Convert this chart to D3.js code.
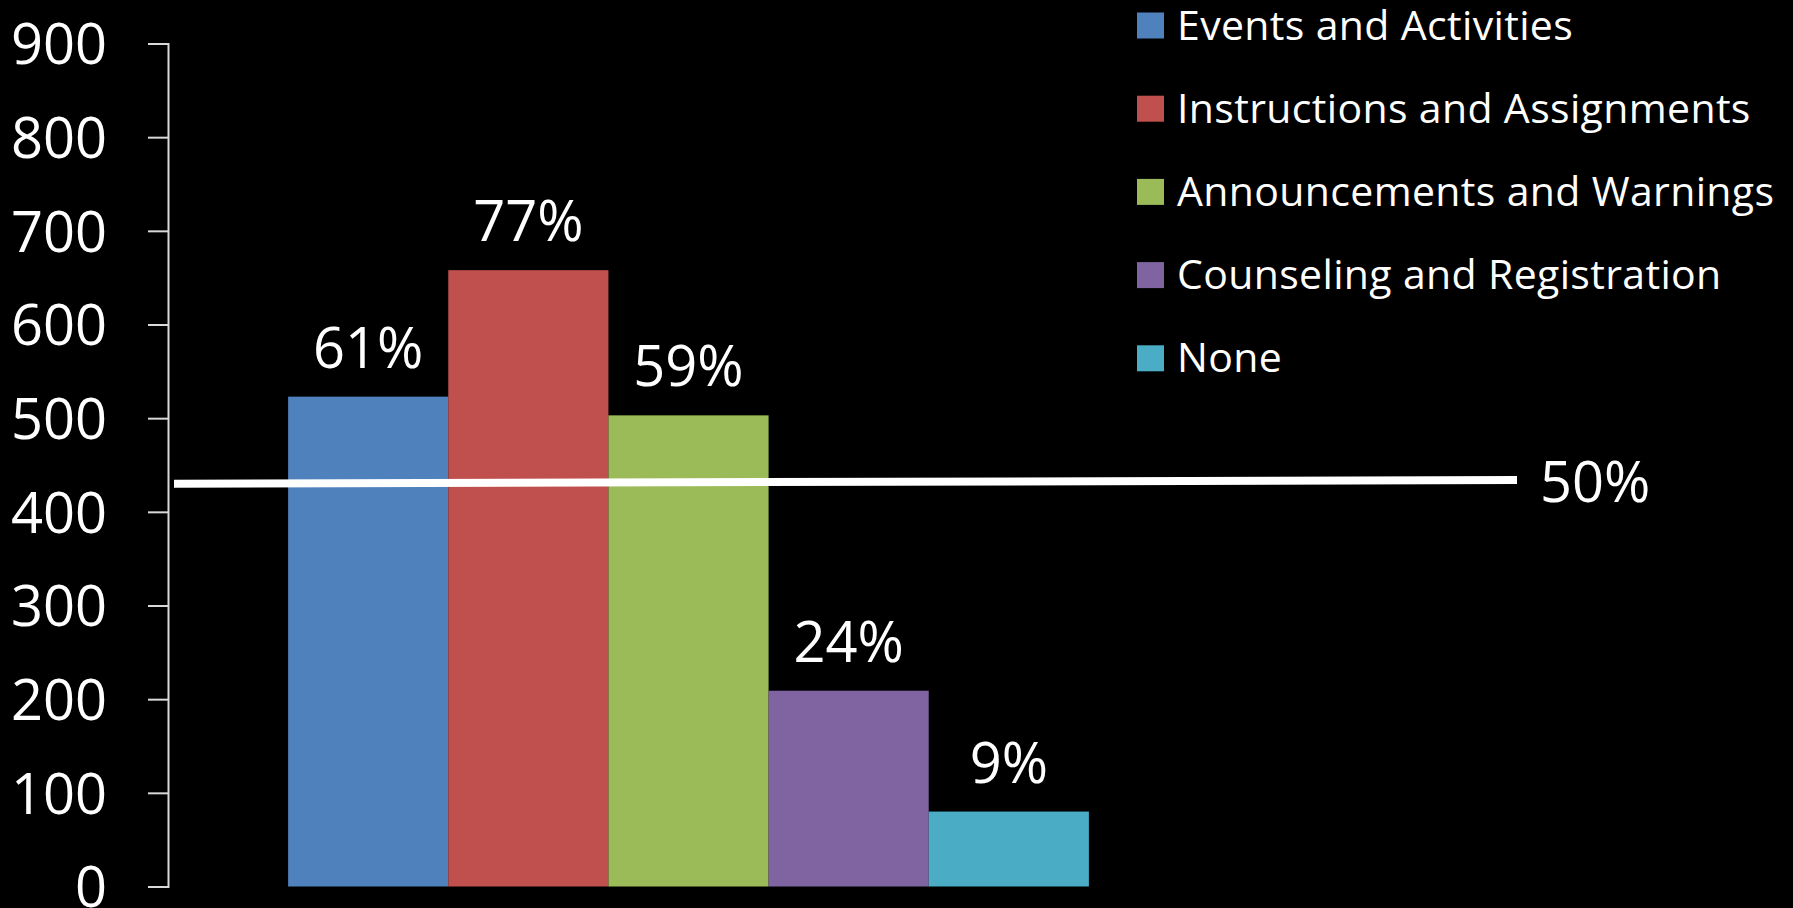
<!DOCTYPE html>
<html>
<head>
<meta charset="utf-8">
<script src="https://cdn.jsdelivr.net/npm/d3@7"></script>
<style>
  html, body { margin: 0; padding: 0; background: #000; }
  svg { display: block; }
  text { font-family: "Open Sans", Lato, sans-serif; fill: #fff; font-variant-ligatures: none; }
</style>
</head>
<body>
<svg id="chart" width="1793" height="908"></svg>
<script>
// ---- data ----
const categories = ["Communication type"];
const seriesNames = ["Events and Activities", "Instructions and Assignments", "Announcements and Warnings", "Counseling and Registration", "None"];
const seriesValues = [523, 658, 503, 209, 80];
const seriesLabels = ["61%", "77%", "59%", "24%", "9%"];
const seriesColors = ["#4F81BD", "#C0504D", "#9BBB59", "#8064A2", "#4BACC6"];
const yTicks = [0, 100, 200, 300, 400, 500, 600, 700, 800, 900];
const refLineValues = [430, 434];   // 50% reference line (left end, right end)
const refLineLabel = "50%";

// ---- layout ----
const svg = d3.select("#chart");
const plotLeft = 168, plotRight = 1209, plotTop = 43.5, plotBottom = 886.5;

const y = d3.scaleLinear().domain([0, 900]).range([plotBottom, plotTop]);
const x0 = d3.scaleBand().domain(categories).range([plotLeft, plotRight]).paddingInner(0).paddingOuter(0.15);
const x1 = d3.scaleBand().domain(seriesNames).range([0, x0.bandwidth()]).padding(0);
const color = d3.scaleOrdinal().domain(seriesNames).range(seriesColors);

// y axis
const yAxis = d3.axisLeft(y).tickValues(yTicks).tickSize(20).tickPadding(41).tickSizeOuter(20);
const ga = svg.append("g").attr("transform", `translate(${plotLeft},0)`).call(yAxis);
ga.selectAll("path.domain").attr("stroke", "#d9d9d9").attr("stroke-width", 2);
ga.selectAll(".tick line").attr("stroke", "#d9d9d9").attr("stroke-width", 2);
ga.selectAll(".tick text")
  .attr("fill", "#fff")
  .style("font-family", "'Open Sans', Lato, sans-serif")
  .style("font-size", "56px")
  .attr("dy", "0.36em");

// bars
const rows = seriesNames.map((n, i) => ({ cat: categories[0], name: n, value: seriesValues[i], label: seriesLabels[i] }));
const g = svg.append("g");
g.selectAll("rect.bar").data(rows).join("rect")
  .attr("class", "bar")
  .attr("x", d => x0(d.cat) + x1(d.name))
  .attr("y", d => y(d.value))
  .attr("width", x1.bandwidth())
  .attr("height", d => y(0) - y(d.value))
  .attr("fill", d => color(d.name));

g.selectAll("text.lbl").data(rows).join("text")
  .attr("class", "lbl")
  .attr("x", d => x0(d.cat) + x1(d.name) + x1.bandwidth() / 2)
  .attr("y", d => y(d.value) - 29)
  .attr("text-anchor", "middle")
  .style("font-size", "56px")
  .text(d => d.label);

// reference line
const refX = d3.scaleLinear().domain([0, 1]).range([plotLeft + 6, 1517]);
svg.append("line")
  .attr("x1", refX(0)).attr("y1", y(refLineValues[0]))
  .attr("x2", refX(1)).attr("y2", y(refLineValues[1]))
  .attr("stroke", "#fff").attr("stroke-width", 8);
svg.append("text")
  .attr("x", 1540).attr("y", y(refLineValues[1]) + 22.5)
  .style("font-size", "56px")
  .text(refLineLabel);

// legend
const lg = svg.append("g").attr("transform", "translate(1137,0)");
const items = lg.selectAll("g.item").data(seriesNames).join("g")
  .attr("class", "item")
  .attr("transform", (d, i) => `translate(0,${25.5 + i * 83.2})`);
items.append("rect").attr("x", 0).attr("y", -13).attr("width", 27).attr("height", 26).attr("fill", d => color(d));
items.append("text").attr("x", 40).attr("y", 14)
  .style("font-size", "41px")
  .style("letter-spacing", "0.35px")
  .text(d => d);
</script>
</body>
</html>
